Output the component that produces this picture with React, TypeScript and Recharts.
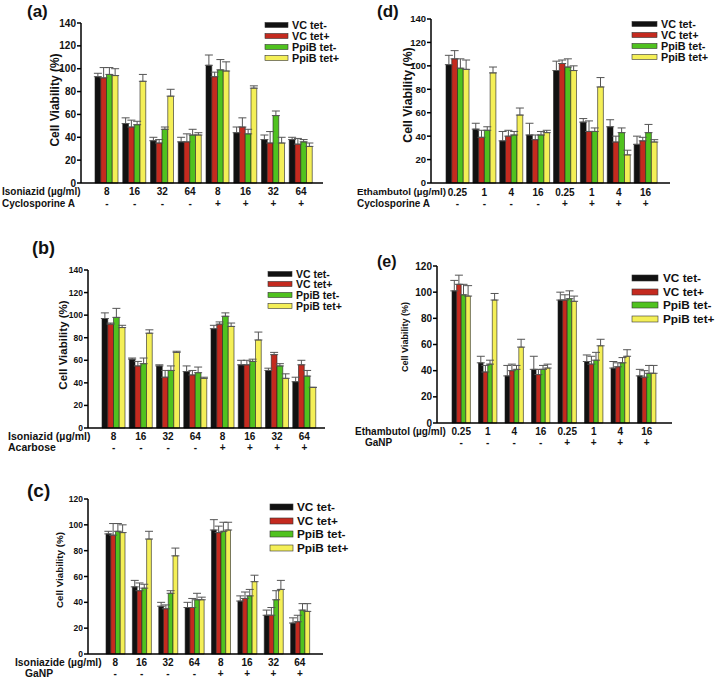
import React from 'react';
import { BarChart, Bar, XAxis, YAxis, ErrorBar } from 'recharts';

// ---------- data ----------
const seriesNames = ['VC tet-', 'VC tet+', 'PpiB tet-', 'PpiB tet+'];
const isoDoses = ['8', '16', '32', '64', '8', '16', '32', '64'];
const ethDoses = ['0.25', '1', '4', '16', '0.25', '1', '4', '16'];
const signs = ['-', '-', '-', '-', '+', '+', '+', '+'];
const ticks140 = [0, 20, 40, 60, 80, 100, 120, 140];
const ticks120 = [0, 20, 40, 60, 80, 100, 120];

// (a) Isoniazid + Cyclosporine A
const aVcNeg = [93, 52, 37, 36, 103, 44, 38, 38];
const aVcNegErr = [3, 5, 3, 4, 9, 5, 4, 2];
const aVcPos = [92, 49, 35, 36, 93, 49, 35, 34];
const aVcPosErr = [9, 6, 3, 7, 4, 8, 10, 5];
const aPpNeg = [95, 51, 47, 42, 99, 43, 59, 36];
const aPpNegErr = [6, 3, 2, 5, 9, 4, 4, 2];
const aPpPos = [94, 89, 76, 42, 98, 83, 35, 32];
const aPpPosErr = [6, 6, 6, 2, 8, 2, 5, 3];

// (b) Isoniazid + Acarbose
const bVcNeg = [97, 61, 55, 50, 88, 56, 51, 41];
const bVcNegErr = [5, 1, 1, 5, 3, 4, 2, 4];
const bVcPos = [92, 55, 45, 47, 92, 56, 65, 56];
const bVcPosErr = [1, 4, 6, 4, 2, 4, 2, 4];
const bPpNeg = [98, 57, 51, 49, 99, 59, 55, 46];
const bPpNegErr = [8, 5, 4, 5, 3, 2, 2, 5];
const bPpPos = [89, 84, 67, 44, 90, 78, 44, 36];
const bPpPosErr = [2, 3, 1, 1, 3, 7, 4, 0];

// (c) Isoniazide + GaNP
const cVcNeg = [93, 52, 37, 36, 96, 41, 30, 24];
const cVcNegErr = [2, 5, 3, 4, 8, 4, 4, 4];
const cVcPos = [92, 49, 35, 36, 94, 43, 30, 25];
const cVcPosErr = [9, 6, 3, 7, 5, 5, 6, 5];
const cPpNeg = [95, 51, 47, 42, 95, 45, 42, 34];
const cPpNegErr = [6, 3, 2, 5, 7, 5, 7, 5];
const cPpPos = [94, 89, 76, 42, 96, 56, 50, 33];
const cPpPosErr = [6, 6, 6, 2, 6, 5, 7, 6];

// (d) Ethambutol + Cyclosporine A
const dVcNeg = [101, 46, 36, 41, 96, 52, 48, 33];
const dVcNegErr = [8, 5, 8, 10, 8, 3, 6, 7];
const dVcPos = [106, 39, 40, 37, 102, 44, 35, 36];
const dVcPosErr = [7, 6, 5, 4, 3, 9, 5, 3];
const dPpNeg = [98, 45, 41, 41, 99, 44, 43, 43];
const dPpNegErr = [8, 3, 3, 3, 7, 3, 4, 7];
const dPpPos = [97, 94, 58, 43, 96, 82, 24, 35];
const dPpPosErr = [8, 5, 6, 2, 4, 8, 4, 2];

// (e) Ethambutol + GaNP
const eVcNeg = [101, 46, 36, 41, 94, 47, 42, 36];
const eVcNegErr = [8, 5, 8, 10, 6, 5, 5, 5];
const eVcPos = [106, 39, 40, 37, 94, 45, 43, 35];
const eVcPosErr = [7, 5, 5, 4, 4, 6, 3, 5];
const ePpNeg = [98, 45, 41, 41, 95, 48, 46, 38];
const ePpNegErr = [8, 3, 3, 3, 6, 6, 4, 6];
const ePpPos = [97, 94, 58, 42, 93, 59, 51, 38];
const ePpPosErr = [8, 5, 6, 3, 4, 5, 5, 6];

// ---------- style ----------
const FONT = '"Liberation Sans", Arial, Helvetica, sans-serif';
const COLORS = ['#111111', '#c42a1f', '#50c21f', '#f4ef57'];
const KEYS = ['s0', 's1', 's2', 's3'];

function buildRows(doses: string[], vals: number[][], errs: number[][]) {
  return doses.map((d, i) => {
    const row: any = { cat: `${d}|${signs[i]}|${i}` };
    vals.forEach((v, k) => {
      row[KEYS[k]] = v[i];
      row[KEYS[k] + 'e'] = [0, errs[k][i]];
    });
    return row;
  });
}

type PanelProps = {
  rows: any[];
  boxL: number; boxT: number; boxW: number; boxH: number;
  axisX: number; plotTop: number; zeroY: number; axisEnd: number;
  yMax: number; yTicks: number[];
  padL: number; padR: number; barSize: number;
  tickFs: number; catFs: number; doseY: number; signY: number;
};

function Panel(p: PanelProps) {
  const yW = p.axisX - p.boxL;
  const top = p.plotTop - p.boxT;
  const right = p.boxL + p.boxW - p.axisEnd;
  const below = p.boxT + p.boxH - p.zeroY;
  const xH = below - 2;
  const dY = p.doseY - p.boxT;
  const sY = p.signY - p.boxT;
  const Tick = (props: any) => {
    const { x, payload } = props;
    const parts = String(payload.value).split('|');
    return (
      <g>
        <text x={x} y={dY} dy="0.35em" textAnchor="middle" fontSize={p.catFs} fontWeight="bold" fontFamily={FONT} fill="#111">{parts[0]}</text>
        <text x={x} y={sY} dy="0.35em" textAnchor="middle" fontSize={p.catFs} fontWeight="bold" fontFamily={FONT} fill="#111">{parts[1]}</text>
      </g>
    );
  };
  return (
    <div style={{ position: 'absolute', left: p.boxL, top: p.boxT }}>
      <BarChart
        width={p.boxW}
        height={p.boxH}
        data={p.rows}
        margin={{ top, right, bottom: 2, left: 0 }}
        barGap={0}
        barSize={p.barSize}
      >
        <XAxis
          dataKey="cat"
          interval={0}
          tick={<Tick />}
          tickLine={false}
          axisLine={{ stroke: '#000', strokeWidth: 1.5 }}
          height={xH}
          padding={{ left: p.padL, right: p.padR }}
        />
        <YAxis
          domain={[0, p.yMax]}
          ticks={p.yTicks}
          width={yW}
          tickSize={4}
          tickMargin={1}
          tickLine={{ stroke: '#000', strokeWidth: 1.5 }}
          axisLine={{ stroke: '#000', strokeWidth: 1.5 }}
          tick={{ fontSize: p.tickFs, fontWeight: 'bold', fill: '#111', fontFamily: FONT }}
        />
        {KEYS.map((k, i) => (
          <Bar key={k} dataKey={k} fill={COLORS[i]} stroke="#222" strokeWidth={0.6} isAnimationActive={false}>
            <ErrorBar dataKey={k + 'e'} width={4} stroke="#555" strokeWidth={1} direction="y" isAnimationActive={false} />
          </Bar>
        ))}
      </BarChart>
    </div>
  );
}

function Legend({ x, textX, w, h, rows, fs }: { x: number; textX: number; w: number; h: number; rows: number[]; fs: number }) {
  return (
    <g>
      {rows.map((cy, i) => (
        <g key={i}>
          <rect x={x} y={cy - h / 2} width={w} height={h} fill={COLORS[i]} stroke="#333" strokeWidth={0.6} />
          <text x={textX} y={cy} dy="0.35em" fontSize={fs} fontWeight="bold" fontFamily={FONT} fill="#111">{seriesNames[i]}</text>
        </g>
      ))}
    </g>
  );
}

function T({ x, y, fs, children, anchor = 'start', rot = false }: any) {
  return (
    <text
      x={x}
      y={y}
      dy="0.35em"
      fontSize={fs}
      fontWeight="bold"
      fontFamily={FONT}
      fill="#111"
      textAnchor={anchor}
      transform={rot ? `rotate(-90 ${x} ${y})` : undefined}
    >
      {children}
    </text>
  );
}

export default function App() {
  const aRows = buildRows(isoDoses, [aVcNeg, aVcPos, aPpNeg, aPpPos], [aVcNegErr, aVcPosErr, aPpNegErr, aPpPosErr]);
  const bRows = buildRows(isoDoses, [bVcNeg, bVcPos, bPpNeg, bPpPos], [bVcNegErr, bVcPosErr, bPpNegErr, bPpPosErr]);
  const cRows = buildRows(isoDoses, [cVcNeg, cVcPos, cPpNeg, cPpPos], [cVcNegErr, cVcPosErr, cPpNegErr, cPpPosErr]);
  const dRows = buildRows(ethDoses, [dVcNeg, dVcPos, dPpNeg, dPpPos], [dVcNegErr, dVcPosErr, dPpNegErr, dPpPosErr]);
  const eRows = buildRows(ethDoses, [eVcNeg, eVcPos, ePpNeg, ePpPos], [eVcNegErr, eVcPosErr, ePpNegErr, ePpPosErr]);

  return (
    <div style={{ position: 'absolute', left: 0, top: 0, width: 717, height: 678, background: '#fff', overflow: 'hidden' }}>
      {/* (a) */}
      <Panel rows={aRows} boxL={0} boxT={0} boxW={330} boxH={215}
        axisX={81} plotTop={23} zeroY={183} axisEnd={323} yMax={140} yTicks={ticks140}
        padL={12} padR={8} barSize={5.75} tickFs={10} catFs={10} doseY={191} signY={203} />
      {/* (d) */}
      <Panel rows={dRows} boxL={350} boxT={0} boxW={330} boxH={215}
        axisX={431} plotTop={19} zeroY={183} axisEnd={670} yMax={140} yTicks={ticks140}
        padL={13} padR={11} barSize={5.75} tickFs={9.5} catFs={10} doseY={192} signY={203} />
      {/* (b) */}
      <Panel rows={bRows} boxL={0} boxT={255} boxW={330} boxH={200}
        axisX={88} plotTop={270} zeroY={428} axisEnd={325} yMax={140} yTicks={ticks140}
        padL={12} padR={7} barSize={5.75} tickFs={8.5} catFs={10} doseY={436} signY={447} />
      {/* (e) */}
      <Panel rows={eRows} boxL={350} boxT={255} boxW={330} boxH={200}
        axisX={437} plotTop={266} zeroY={423} axisEnd={672} yMax={120} yTicks={ticks120}
        padL={11} padR={12} barSize={4.6} tickFs={10} catFs={10} doseY={431} signY={442} />
      {/* (c) */}
      <Panel rows={cRows} boxL={0} boxT={485} boxW={330} boxH={193}
        axisX={88} plotTop={499} zeroY={654} axisEnd={323} yMax={120} yTicks={ticks120}
        padL={14} padR={10} barSize={4.75} tickFs={8.5} catFs={10} doseY={662} signY={673} />

      <svg width={717} height={678} style={{ position: 'absolute', left: 0, top: 0, pointerEvents: 'none' }}>
        {/* panel labels */}
        <T x={27} y={11} fs={17}>(a)</T>
        <T x={377} y={11} fs={17}>(d)</T>
        <T x={32} y={248} fs={18}>(b)</T>
        <T x={377} y={261} fs={16}>(e)</T>
        <T x={27} y={490} fs={19}>(c)</T>

        {/* y titles */}
        <T x={55} y={100} fs={12} anchor="middle" rot>Cell Viability (%)</T>
        <T x={408} y={95} fs={12.3} anchor="middle" rot>Cell Viability (%)</T>
        <T x={63} y={345} fs={11.5} anchor="middle" rot>Cell Viability (%)</T>
        <T x={405} y={337} fs={9} anchor="middle" rot>Cell Viability (%)</T>
        <T x={60} y={570} fs={9.8} anchor="middle" rot>Cell Viability (%)</T>

        {/* row labels */}
        <T x={2} y={191} fs={10}>Isoniazid (µg/ml)</T>
        <T x={2} y={203} fs={10}>Cyclosporine A</T>
        <T x={357} y={192} fs={9.8}>Ethambutol (µg/ml)</T>
        <T x={357} y={203} fs={10}>Cyclosporine A</T>
        <T x={8} y={436} fs={10.5}>Isoniazid (µg/ml)</T>
        <T x={8} y={447} fs={10.5}>Acarbose</T>
        <T x={355} y={431} fs={10}>Ethambutol (µg/ml)</T>
        <T x={365} y={442} fs={10}>GaNP</T>
        <T x={15} y={662} fs={10.3}>Isoniazide (µg/ml)</T>
        <T x={25} y={673} fs={10.3}>GaNP</T>

        {/* legends */}
        <Legend x={265} textX={292} w={23} h={5} rows={[25, 36, 47, 58]} fs={10.8} />
        <Legend x={632} textX={661} w={25} h={5} rows={[24, 35, 46, 57]} fs={10.8} />
        <Legend x={268} textX={296} w={24} h={5} rows={[274, 284, 295, 306]} fs={10.5} />
        <Legend x={632} textX={663} w={26} h={6} rows={[278, 292, 305, 319]} fs={11.8} />
        <Legend x={270} textX={297} w={23} h={6} rows={[507, 521, 534, 548]} fs={11.8} />
      </svg>
    </div>
  );
}
